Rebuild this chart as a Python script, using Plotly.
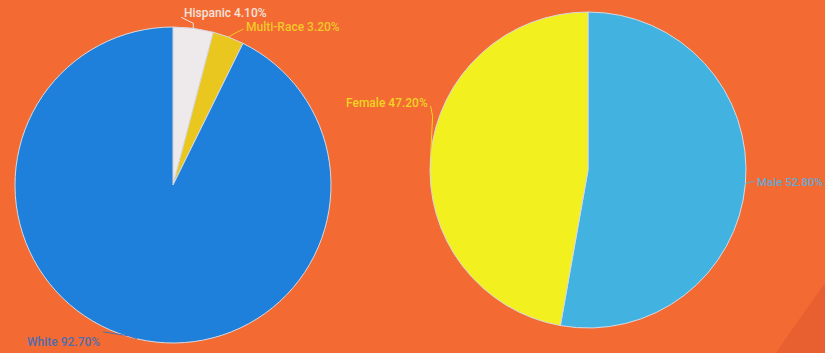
import math
import plotly.graph_objects as go

W, H = 825, 353

# Ethnicity breakdown
eth_labels = ["Hispanic", "Multi-Race", "White"]
eth_values = [4.10, 3.20, 92.70]
eth_colors = ["#EEE9EA", "#E9C71F", "#1E80DA"]
eth_text_colors = ["#F3E3DE", "#F2C72A", "#4F6DAE"]

# Gender breakdown
gen_labels = ["Male", "Female"]
gen_values = [52.80, 47.20]
gen_colors = ["#42B3E1", "#F3F020"]
gen_text_colors = ["#6AA8D0", "#F1D324"]

BG = "#F36B33"


def px(x):
    return x / W


def py(y):
    return 1 - y / H


# Pie geometry in pixels (centre x, centre y, radius)
LEFT = (173, 185, 158)
RIGHT = (588, 170, 158)


def domain(c):
    cx, cy, r = c
    return dict(x=[px(cx - r), px(cx + r)], y=[py(cy + r), py(cy - r)])


fig = go.Figure()
fig.add_trace(go.Pie(
    labels=eth_labels, values=eth_values, sort=False, direction="clockwise",
    rotation=0, textinfo="none", hoverinfo="label+percent",
    marker=dict(colors=eth_colors, line=dict(color="#D8D8E0", width=1)),
    domain=domain(LEFT), showlegend=False,
))
fig.add_trace(go.Pie(
    labels=gen_labels, values=gen_values, sort=False, direction="clockwise",
    rotation=0, textinfo="none", hoverinfo="label+percent",
    marker=dict(colors=gen_colors, line=dict(color="#D8D8E0", width=1)),
    domain=domain(RIGHT), showlegend=False,
))


def arc_points(values, centre):
    cx, cy, r = centre
    total = sum(values)
    pts, acc = [], 0.0
    for v in values:
        mid = (acc + v / 2) / total * 2 * math.pi
        pts.append((cx + r * math.sin(mid), cy - r * math.cos(mid)))
        acc += v
    return pts


# label placement style: (elbow dx, elbow dy, end dx, end dy, text dx, text dy, anchor, size)
eth_style = [(0, -5, -12, -11, 0, -4, "left", 12),
             (7, -4, 15, -8, 0, -2, "left", 12),
             (-8, -3, -34, -7, 0, 10, "right", 12)]
gen_style = [(5, -2, 9, -2, 0, 0, "left", 11.5),
             (2, -40, 0, -50, 0, -3, "right", 12)]

shapes = [
    # darker sweep in the lower right corner
    dict(type="path", xref="paper", yref="paper",
         path=f"M {px(825)} {py(283)} Q {px(797)} {py(322)} {px(776)} {py(353)} L {px(825)} {py(353)} Z",
         fillcolor="#E8602F", line=dict(width=0), layer="below"),
]
annotations = []


def add_labels(labels, values, text_colors, style, centre):
    for lab, val, col, st, (ax, ay) in zip(labels, values, text_colors, style,
                                             arc_points(values, centre)):
        ex, ey, tx, ty, ox, oy, anchor, size = st
        x1, y1 = ax + ex, ay + ey
        x2, y2 = ax + tx, ay + ty
        shapes.append(dict(
            type="path", xref="paper", yref="paper",
            path=f"M {px(ax)} {py(ay)} L {px(x1)} {py(y1)} L {px(x2)} {py(y2)}",
            line=dict(color=col, width=1)))
        annotations.append(dict(
            x=px(x2 + ox + (1 if anchor == "left" else -1)), y=py(y2 + oy),
            xref="paper", yref="paper", xanchor=anchor, yanchor="middle",
            text=f"{lab} {val:.2f}%", showarrow=False,
            font=dict(family="Roboto", size=size, weight=500, color=col)))


add_labels(eth_labels, eth_values, eth_text_colors, eth_style, LEFT)
add_labels(gen_labels, gen_values, gen_text_colors, gen_style, RIGHT)

fig.update_layout(
    width=W, height=H, margin=dict(l=0, r=0, t=0, b=0),
    paper_bgcolor=BG, plot_bgcolor=BG,
    shapes=shapes, annotations=annotations,
)

fig.write_html("out.html")
